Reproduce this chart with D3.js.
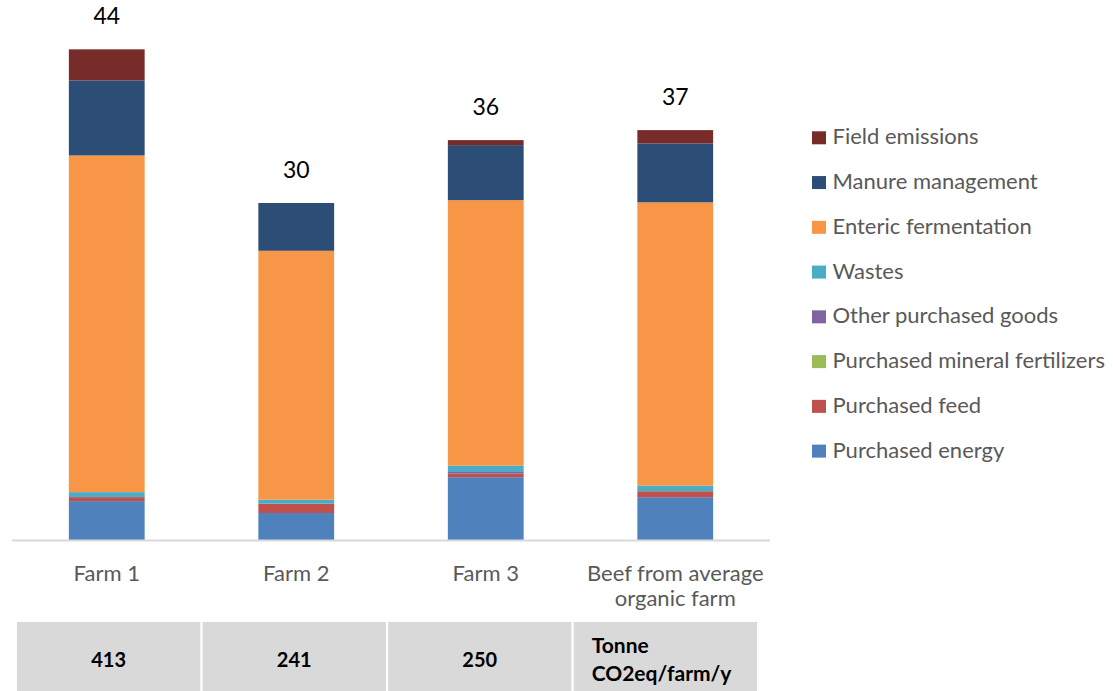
<!DOCTYPE html>
<html><head><meta charset="utf-8">
<script src="https://cdn.jsdelivr.net/npm/d3@7"></script>
<style>body{margin:0;background:#fff}svg{display:block}</style>
</head><body>
<svg id="chart" width="1113" height="691"></svg>
<script>
const categories = ["Farm 1", "Farm 2", "Farm 3", "Beef from average organic farm"];
const seriesNames = ["Purchased energy", "Purchased feed", "Purchased mineral fertilizers", "Other purchased goods", "Wastes", "Enteric fermentation", "Manure management", "Field emissions"];
const seriesColors = ["#4F81BD", "#C0504D", "#9BBB59", "#8064A2", "#4BACC6", "#F79646", "#2C4D75", "#772C2A"];
const purchasedEnergy = [3.5, 2.43, 5.65, 3.85];
const purchasedFeed = [0.36, 0.84, 0.32, 0.54];
const mineralFertilizers = [0, 0, 0, 0];
const otherGoods = [0, 0, 0.15, 0];
const wastes = [0.45, 0.36, 0.57, 0.5];
const enteric = [30.3, 22.4, 23.9, 25.5];
const manure = [6.75, 4.3, 4.95, 5.3];
const fieldEmissions = [2.8, 0, 0.45, 1.2];
const totalLabels = ["44", "30", "36", "37"];
const tableValues = ["413", "241", "250"];
const tableUnit = ["Tonne", "CO2eq/farm/y"];

const seriesValues = [purchasedEnergy, purchasedFeed, mineralFertilizers, otherGoods, wastes, enteric, manure, fieldEmissions];
const rows = categories.map((c, i) => {
  const o = {cat: c};
  seriesNames.forEach((s, j) => o[s] = seriesValues[j][i]);
  return o;
});
const stacked = d3.stack().keys(seriesNames)(rows);

const svg = d3.select("#chart");
const font = "Lato, 'Open Sans', sans-serif";
const x = d3.scaleBand().domain(categories).range([12, 770]).paddingInner(0.6).paddingOuter(0.3);
const y = d3.scaleLinear().domain([0, 45]).range([540, 40]);
const color = d3.scaleOrdinal().domain(seriesNames).range(seriesColors);

svg.append("g").selectAll("g").data(stacked).join("g")
  .attr("fill", d => color(d.key))
  .selectAll("rect").data(d => d).join("rect")
  .attr("x", d => x(d.data.cat))
  .attr("width", x.bandwidth())
  .attr("y", d => y(d[1]))
  .attr("height", d => Math.max(0, y(d[0]) - y(d[1])));

// axis line
svg.append("line").attr("x1", 12).attr("x2", 770).attr("y1", 540.5).attr("y2", 540.5)
  .attr("stroke", "#d9d9d9").attr("stroke-width", 2);

// total labels
const topLayer = stacked[stacked.length - 1];
svg.append("g").selectAll("text").data(categories).join("text")
  .attr("x", d => x(d) + x.bandwidth() / 2)
  .attr("y", (d, i) => y(topLayer[i][1]) - 25)
  .attr("text-anchor", "middle").attr("font-family", font).attr("font-size", 23)
  .attr("fill", "#000").text((d, i) => totalLabels[i]);

// category labels
const catG = svg.append("g");
categories.forEach(c => {
  const lines = c === "Beef from average organic farm" ? ["Beef from average", "organic farm"] : [c];
  const t = catG.append("text").attr("x", x(c) + x.bandwidth() / 2).attr("y", 581)
    .attr("text-anchor", "middle").attr("font-family", font).attr("font-size", 22).attr("fill", "#595959");
  lines.forEach((l, k) => t.append("tspan").attr("x", x(c) + x.bandwidth() / 2).attr("dy", k ? 25 : 0).text(l));
});

// legend
const legendOrder = seriesNames.slice().reverse();
const lg = svg.append("g").selectAll("g").data(legendOrder).join("g")
  .attr("transform", (d, i) => `translate(812, ${144.3 + i * 44.76})`);
lg.append("rect").attr("x", 0).attr("y", -13).attr("width", 14).attr("height", 13).attr("fill", d => color(d));
lg.append("text").attr("x", 20.5).attr("y", 0).attr("font-family", font).attr("font-size", 22)
  .attr("fill", "#595959").text(d => d);

// table
const tx = d3.scaleBand().domain(d3.range(4)).range([17, 757]).paddingInner(0.012);
const tg = svg.append("g");
tg.selectAll("rect").data(d3.range(4)).join("rect")
  .attr("x", d => tx(d)).attr("width", tx.bandwidth()).attr("y", 622).attr("height", 69)
  .attr("fill", "#D9D9D9");
tg.selectAll("text.v").data(tableValues).join("text").attr("class", "v")
  .attr("x", (d, i) => tx(i) + tx.bandwidth() / 2).attr("y", 667)
  .attr("text-anchor", "middle").attr("font-family", font).attr("font-size", 20).attr("font-weight", "bold")
  .attr("fill", "#000").text(d => d);
const ut = tg.append("text").attr("x", tx(3) + 18).attr("y", 653).attr("font-family", font)
  .attr("font-size", 21).attr("font-weight", "bold").attr("fill", "#000");
tableUnit.forEach((l, k) => ut.append("tspan").attr("x", tx(3) + 18).attr("dy", k ? 28 : 0).text(l));
</script>
</body></html>
